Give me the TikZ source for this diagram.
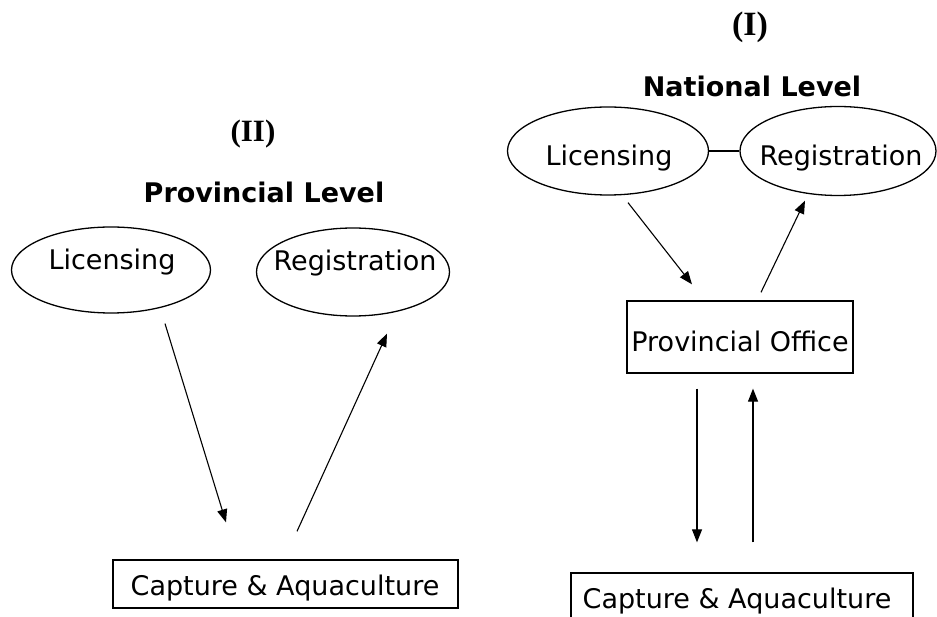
\documentclass[tikz,border=0pt]{standalone}
\usepackage{fontspec}
\setmainfont{DejaVu Sans}
\newfontfamily\romanb{Liberation Serif}
\usetikzlibrary{shapes.geometric,arrows.meta,calc}
\tikzset{
  txt/.style={font=\fontsize{27}{32}\selectfont, inner sep=0pt, anchor=base},
  oval/.style={draw, ellipse, line width=1.3pt, inner sep=0pt},
  boxnode/.style={draw, rectangle, line width=1.3pt, inner sep=0pt},
  heading/.style={font=\fontsize{27}{32}\selectfont\bfseries, inner sep=0pt, anchor=base},
  romanbig/.style={font=\romanb\fontsize{34}{38}\selectfont\bfseries, inner sep=0pt, anchor=base},
  romanmid/.style={font=\romanb\fontsize{31}{35}\selectfont\bfseries, inner sep=0pt, anchor=base},
  arr/.style={line width=1.1pt, -{Triangle[length=13pt,width=10pt]}},
  link/.style={line width=1.1pt}
}
\begin{document}
\begin{tikzpicture}[x=1pt,y=-1pt]
\useasboundingbox (0,0) rectangle (937,617);
% Right: national level
\node[romanbig] (t1) at (750,36) {(I)};
\node[heading] (nat) at (752,97) {National Level};
\node[oval, minimum width=201pt, minimum height=88pt] (rlic) at (608,151) {};
\node[txt] (rlicT) at (609,166) {Licensing};
\node[oval, minimum width=196pt, minimum height=89pt] (rreg) at (838,151) {};
\node[txt] (rregT) at (841,166) {Registration};
\draw[link] (rlic.east) -- (rreg.west);
\node[boxnode, minimum width=226pt, minimum height=72pt] (poff) at (740,337) {};
\node[txt] (poffT) at (740,352) {Provincial Office};
\node[boxnode, minimum width=342pt, minimum height=50pt] (rcap) at (742,598) {};
\node[txt] (rcapT) at (737,608) {Capture \& Aquaculture};
\coordinate (a1s) at ($(rlic.south)+(20,7)$);
\coordinate (a1e) at ($(poff.north)+(-48,-16)$);
\coordinate (a2s) at ($(poff.north)+(21,-8)$);
\coordinate (a2e) at ($(rreg.south)+(-33,4.5)$);
\coordinate (a3s) at ($(poff.south)+(-43,15)$);
\coordinate (a3e) at ($(rcap.north)+(-45,-30)$);
\coordinate (a4s) at ($(rcap.north)+(11,-30)$);
\coordinate (a4e) at ($(poff.south)+(13,15)$);
\draw[arr] (a1s) -- (a1e);
\draw[arr] (a2s) -- (a2e);
\draw[arr] (a3s) -- (a3e);
\draw[arr] (a4s) -- (a4e);
% Left: provincial level
\node[romanmid] (t2) at (253,142) {(II)};
\node[heading] (prov) at (264,203) {Provincial Level};
\node[oval, minimum width=199pt, minimum height=86pt] (llic) at (111,270) {};
\node[txt] (llicT) at (112,270) {Licensing};
\node[oval, minimum width=193pt, minimum height=88pt] (lreg) at (353,272) {};
\node[txt] (lregT) at (355,271) {Registration};
\node[boxnode, minimum width=345pt, minimum height=48pt] (lcap) at (285.5,584) {};
\node[txt] (lcapT) at (285,595) {Capture \& Aquaculture};
\coordinate (b1s) at ($(llic.south)+(54,10)$);
\coordinate (b1e) at ($(lcap.north)+(-59.5,-37)$);
\coordinate (b2s) at ($(lcap.north)+(11.5,-28)$);
\coordinate (b2e) at ($(lreg.south)+(34,17)$);
\draw[arr] (b1s) -- (b1e);
\draw[arr] (b2s) -- (b2e);
\end{tikzpicture}
\end{document}
